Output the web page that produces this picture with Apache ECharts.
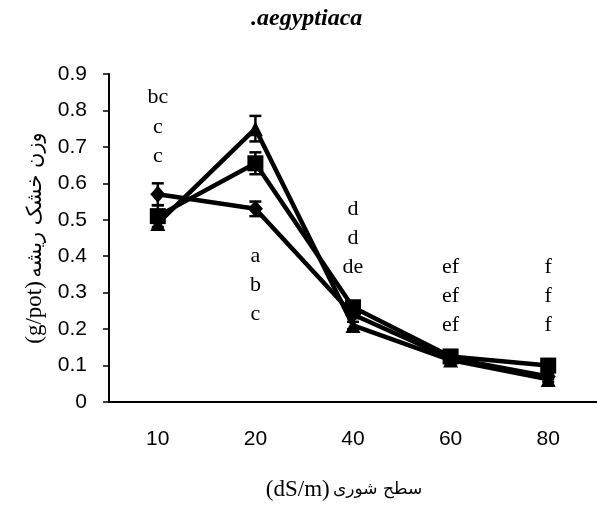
<!DOCTYPE html>
<html dir="ltr">
<head>
<meta charset="utf-8">
<script src="https://cdn.jsdelivr.net/npm/echarts@6/dist/echarts.min.js"></script>
<style>
    html, body { margin: 0; padding: 0; background: #fff; }
    #chart { width: 597px; height: 506px; }
</style>
</head>
<body>
<div id="chart"></div>
<script>
// salinity levels (dS/m)
const categories = ['10', '20', '40', '60', '80']

// three series
const diamondMeans = [0.57, 0.53, 0.24, 0.12, 0.07]
const diamondErr = [0.03, 0.02, 0.01, 0.008, 0.006]
const squareMeans = [0.51, 0.655, 0.26, 0.125, 0.10]
const squareErr = [0.03, 0.03, 0.01, 0.008, 0.006]
const triangleMeans = [0.49, 0.75, 0.21, 0.115, 0.062]
const triangleErr = [0.015, 0.035, 0.01, 0.008, 0.006]

// significance letters, one column per level, top row first
const letterCols = [['bc', 'c', 'c'], ['a', 'b', 'c'], ['d', 'd', 'de'], ['ef', 'ef', 'ef'], ['f', 'f', 'f']]
const letterTop = [0.835, 0.40, 0.53, 0.37, 0.37]
const letterStep = 0.08

const yTicks = ['0', '0.1', '0.2', '0.3', '0.4', '0.5', '0.6', '0.7', '0.8', '0.9']

const serif = 'Liberation Serif, DejaVu Serif, DejaVu Sans'
const sans = 'Liberation Sans, Arial, sans-serif'
const arabic = 'DejaVu Sans'

const letterData = []
letterCols.forEach((col, i) => {
    col.forEach((t, k) => {
        letterData.push([i, letterTop[i] - k * letterStep, t])
    })
})

const errData = (means, errs) => means.map((m, i) => [i, m - errs[i], m + errs[i]])

const errSeries = (means, errs) => ({
    type: 'custom',
    z: 1,
    data: errData(means, errs),
    renderItem: (params, api) => {
        const lo = api.coord([api.value(0), api.value(1)])
        const hi = api.coord([api.value(0), api.value(2)])
        const w = 6
        const style = { stroke: '#000', lineWidth: 2.5 }
        return {
            type: 'group',
            children: [
                { type: 'line', shape: { x1: lo[0], y1: lo[1], x2: hi[0], y2: hi[1] }, style },
                { type: 'line', shape: { x1: lo[0] - w, y1: lo[1], x2: lo[0] + w, y2: lo[1] }, style },
                { type: 'line', shape: { x1: hi[0] - w, y1: hi[1], x2: hi[0] + w, y2: hi[1] }, style }
            ]
        }
    }
})

const lineSeries = (name, data, symbol, size) => ({
    name,
    type: 'line',
    z: 2,
    data,
    symbol,
    symbolSize: size,
    showAllSymbol: true,
    lineStyle: { color: '#000', width: 4.5 },
    itemStyle: { color: '#000', opacity: 1 },
    animation: false
})

const chart = echarts.init(document.getElementById('chart'))
chart.setOption({
    animation: false,
    title: {
        text: '.aegyptiaca',
        left: 246,
        top: 2,
        textStyle: { fontFamily: serif, fontStyle: 'italic', fontWeight: 'bold', fontSize: 24, color: '#000' }
    },
    grid: {
        left: 109,
        right: -10,
        top: 74,
        bottom: 102
    },
    xAxis: {
        type: 'category',
        data: categories,
        name: '{l|(dS/m)} {a|سطح شوری}',
        nameLocation: 'middle',
        nameGap: 76,
        nameTextStyle: {
            padding: [0, 0, 0, -18],
            rich: {
                l: { fontFamily: serif, fontSize: 23, color: '#000' },
                a: { fontFamily: arabic, fontSize: 17, color: '#000' }
            }
        },
        axisLine: { lineStyle: { color: '#000', width: 2 } },
        axisTick: { alignWithLabel: true, length: 5, lineStyle: { color: '#000', width: 1.5 } },
        axisLabel: { fontFamily: sans, fontSize: 21, color: '#000', margin: 27 },
        splitLine: { show: false }
    },
    yAxis: {
        type: 'value',
        min: 0,
        max: 0.9,
        interval: 0.1,
        name: '{l|(g/pot)} {a|وزن خشک ریشه}',
        nameLocation: 'middle',
        nameGap: 61,
        nameTextStyle: {
            rich: {
                l: { fontFamily: serif, fontSize: 23, color: '#000' },
                a: { fontFamily: arabic, fontSize: 21, color: '#000' }
            }
        },
        axisLine: { show: true, lineStyle: { color: '#000', width: 2 } },
        axisTick: { show: true, length: 6, lineStyle: { color: '#000', width: 1.5 } },
        axisLabel: {
            fontFamily: sans,
            fontSize: 21,
            color: '#000',
            margin: 22,
            formatter: (v) => yTicks[Math.round(v * 10)]
        },
        splitLine: { show: false }
    },
    series: [
        errSeries(diamondMeans, diamondErr),
        errSeries(squareMeans, squareErr),
        errSeries(triangleMeans, triangleErr),
        lineSeries('diamond', diamondMeans, 'diamond', [15, 17]),
        lineSeries('square', squareMeans, 'rect', 16),
        lineSeries('triangle', triangleMeans, 'triangle', 15),
        {
            type: 'scatter',
            z: 3,
            data: letterData,
            symbolSize: 0,
            silent: true,
            itemStyle: { opacity: 1 },
            label: {
                show: true,
                position: 'inside',
                formatter: (p) => p.value[2],
                fontFamily: serif,
                fontSize: 22,
                color: '#000',
                opacity: 1
            }
        }
    ]
})
</script>
</body>
</html>
